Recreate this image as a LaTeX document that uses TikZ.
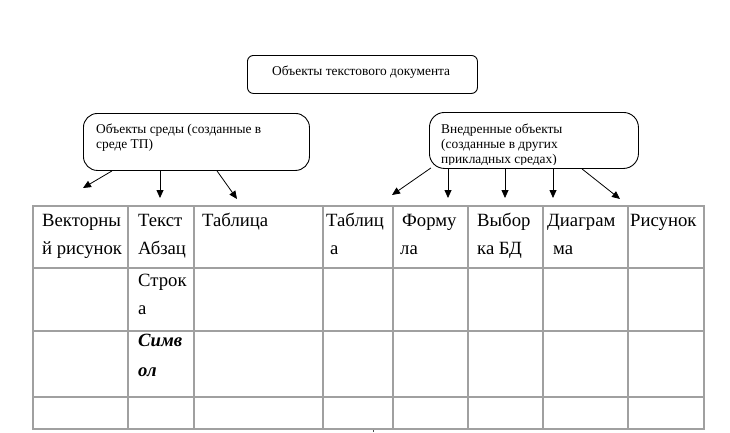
\documentclass[tikz,border=0pt]{standalone}
\usepackage{fontspec}
\setmainfont{Liberation Serif}
\usetikzlibrary{arrows.meta,calc}
\begin{document}
\begin{tikzpicture}[x=1pt,y=-1pt,
  box/.style={draw=black,line width=0.9pt,inner sep=0pt,anchor=north west,fill=white},
  boxtxt/.style={font=\fontsize{13.4}{15}\selectfont,inner sep=0pt,anchor=base west},
  cell/.style={font=\fontsize{18.7}{28}\selectfont,inner sep=0pt,anchor=base west},
  tgrid/.style={draw={rgb,255:red,160;green,160;blue,160},line width=1.2pt},
  arr/.style={draw=black,line width=0.8pt,-{Triangle[length=8pt,width=7pt]}}
]
\useasboundingbox[fill=white] (0,0) rectangle (730,432);

% boxes
\node[box,rounded corners=6pt,minimum width=230pt,minimum height=38pt] (b1) at (247,55) {};
\node[boxtxt] (t1) at (272,75) {Объекты текстового документа};

\node[box,rounded corners=14pt,minimum width=226pt,minimum height=57pt] (b2) at (83,113) {};
\node[boxtxt] (t2a) at (96,133) {Объекты среды (созданные в};
\node[boxtxt] (t2b) at (96,148) {среде ТП)};

\node[box,rounded corners=15pt,minimum width=209pt,minimum height=56pt] (b3) at (429,112) {};
\begin{scope}
\clip[rounded corners=15pt] (430,113) rectangle (637,164.5);
\node[boxtxt] (t3a) at (441,133) {Внедренные объекты};
\node[boxtxt] (t3b) at (441,148) {(созданные в других};
\node[boxtxt] (t3c) at (441,163) {прикладных средах)};
\end{scope}

% arrow coordinates
\coordinate (s21) at ($(b2.south west)+(29,0)$);
\coordinate (s22) at ($(b2.south west)+(77,0)$);
\coordinate (s23) at ($(b2.south west)+(134,0)$);
\coordinate (e21) at (83,188);
\coordinate (e22) at (160,198);
\coordinate (e23) at (237,199);
\coordinate (s31) at ($(b3.south west)+(2,-1)$);
\coordinate (s32) at ($(b3.south west)+(19,0)$);
\coordinate (s33) at ($(b3.south west)+(76,0)$);
\coordinate (s34) at ($(b3.south west)+(124,0)$);
\coordinate (s35) at ($(b3.south west)+(153,0)$);
\coordinate (e31) at (392,195);
\coordinate (e32) at (448,198);
\coordinate (e33) at (505,198);
\coordinate (e34) at (553,198);
\coordinate (e35) at (620,199);
\foreach \i in {21,22,23,31,32,33,34,35} \draw[arr] (s\i) -- (e\i);

% table
\foreach \x in {128,194,323,393,468,543,628} \draw[tgrid] (\x,206) -- (\x,429);
\foreach \y in {268,331,397} \draw[tgrid] (33,\y) -- (704,\y);
\draw[tgrid] (33,206) rectangle (704,429);
\draw[line width=0.8pt,black!70] (373,430) -- (373,432);

% cells
\node[cell] (c1a) at (42,226) {Векторны};
\node[cell] (c1b) at (42,254) {й рисунок};
\node[cell] (c2a) at (138,226) {Текст};
\node[cell] (c2b) at (138,254) {Абзац};
\node[cell] (c3a) at (202,226) {Таблица};
\node[cell] (c4a) at (326,226) {Таблиц};
\node[cell] (c4b) at (330,254) {а};
\node[cell] (c5a) at (402,226) {Форму};
\node[cell] (c5b) at (400,254) {ла};
\node[cell] (c6a) at (477,226) {Выбор};
\node[cell] (c6b) at (477,254) {ка БД};
\node[cell] (c7a) at (547,226) {Диаграм};
\node[cell] (c7b) at (553,254) {ма};
\node[cell] (c8a) at (630,226) {Рисунок};
\node[cell] (r2a) at (138,286) {Строк};
\node[cell] (r2b) at (138,314) {а};
\node[cell,font=\fontsize{18.7}{28}\selectfont\bfseries\itshape] (r3a) at (138,346) {Симв};
\node[cell,font=\fontsize{18.7}{28}\selectfont\bfseries\itshape] (r3b) at (138,376) {ол};
\end{tikzpicture}
\end{document}
